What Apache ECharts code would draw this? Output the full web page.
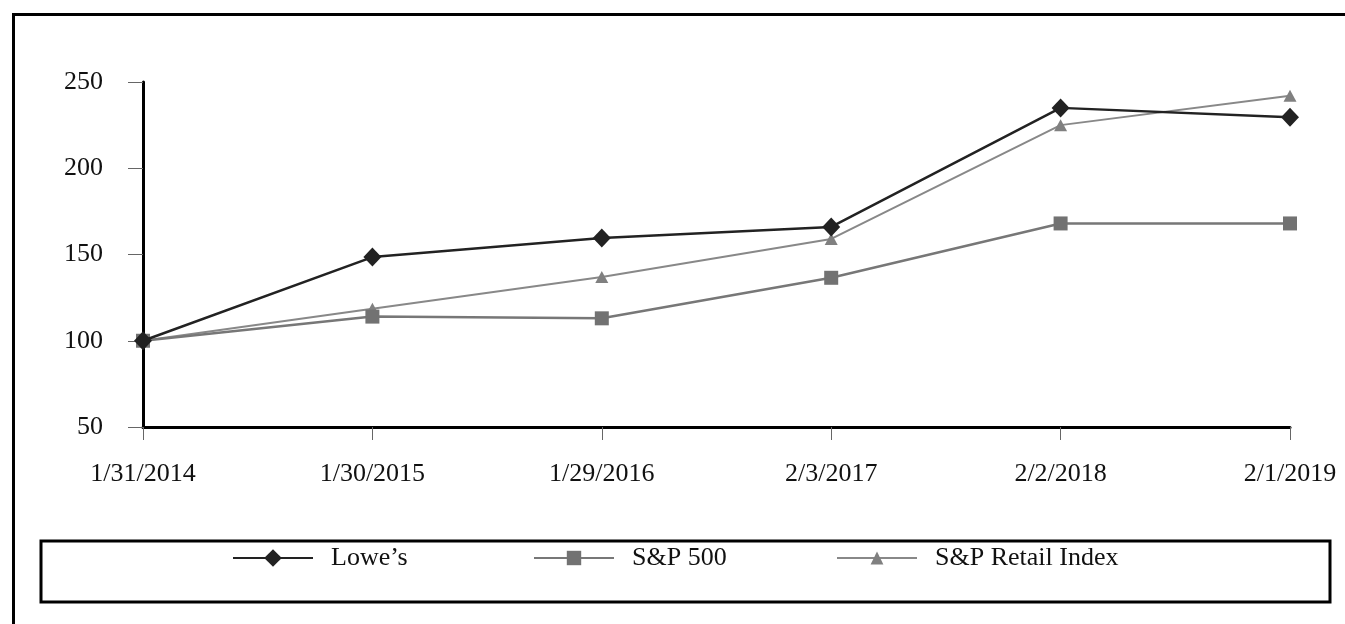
<!DOCTYPE html>
<html>
<head>
<meta charset="utf-8">
<script src="https://cdn.jsdelivr.net/npm/echarts@6/dist/echarts.min.js"></script>
<style>
html,body{margin:0;padding:0;background:#fff;}
#chart{width:1345px;height:624px;}
</style>
</head>
<body>
<div id="chart"></div>
<script>
var categories = ['1/31/2014', '1/30/2015', '1/29/2016', '2/3/2017', '2/2/2018', '2/1/2019'];
var lowes = [100, 148.5, 159.5, 166, 235, 229.5];
var sp500 = [100, 114, 113, 136.5, 168, 168];
var retail = [100, 118.5, 137, 159, 225, 242];
var yTicks = [50, 100, 150, 200, 250];

var chart = echarts.init(document.getElementById('chart'));
var font = '"Liberation Serif", "Times New Roman", serif';

var legendText = {fontFamily: font, fontSize: 26, color: '#111', padding: [0, 0, 0, 13]};
function mkLegend(name, left, h) {
  return {
    data: [name], left: left, top: 545, padding: 0, orient: 'horizontal',
    itemWidth: 80, itemHeight: h, textStyle: legendText, selectedMode: false
  };
}

chart.setOption({
  animation: false,
  backgroundColor: '#fff',
  grid: {left: 143, right: 55, top: 82, bottom: 197, containLabel: false},
  xAxis: {
    type: 'category', data: categories, boundaryGap: false,
    axisLine: {lineStyle: {color: '#000', width: 3}},
    axisTick: {show: true, length: 13, alignWithLabel: true, lineStyle: {color: '#666', width: 1}},
    axisLabel: {fontFamily: font, fontSize: 26, color: '#111', margin: 34, interval: 0},
    splitLine: {show: false}
  },
  yAxis: {
    type: 'value', min: yTicks[0], max: yTicks[yTicks.length - 1], interval: 50,
    axisLine: {show: true, lineStyle: {color: '#000', width: 3}},
    axisTick: {show: true, length: 15, lineStyle: {color: '#666', width: 1}},
    axisLabel: {fontFamily: font, fontSize: 26, color: '#111', margin: 40},
    splitLine: {show: false}
  },
  legend: [
    mkLegend("Lowe\u2019s", 232, 22),
    mkLegend('S&P 500', 533, 18),
    mkLegend('S&P Retail Index', 836, 16)
  ],
  graphic: [
    {type: 'rect', shape: {x: 13.5, y: 14.5, width: 1345, height: 700}, style: {fill: 'none', stroke: '#000', lineWidth: 3}, z: 100},
    {type: 'rect', shape: {x: 41, y: 541, width: 1289, height: 61}, style: {fill: 'none', stroke: '#000', lineWidth: 3}, z: 100}
  ],
  series: [
    {
      name: 'S&P Retail Index', type: 'line', data: retail,
      symbol: 'triangle', symbolSize: [13, 12],
      lineStyle: {color: '#888', width: 2}, itemStyle: {color: '#808080'}, z: 2
    },
    {
      name: 'S&P 500', type: 'line', data: sp500,
      symbol: 'rect', symbolSize: 14,
      lineStyle: {color: '#777', width: 2.5}, itemStyle: {color: '#727272'}, z: 3
    },
    {
      name: "Lowe\u2019s", type: 'line', data: lowes,
      symbol: 'diamond', symbolSize: [18, 19],
      lineStyle: {color: '#222', width: 2.5}, itemStyle: {color: '#222'}, z: 4
    }
  ]
});
</script>
</body>
</html>
